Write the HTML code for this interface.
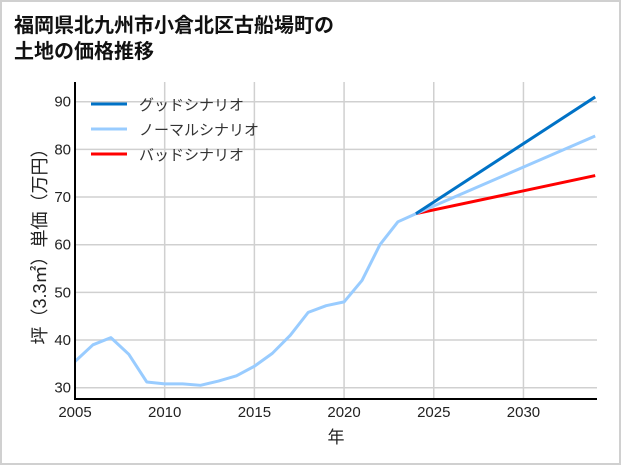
<!DOCTYPE html>
<html><head><meta charset="utf-8"><style>
body{margin:0;background:#fff}
#wrap{width:617px;height:461px;border:2px solid #d0d0d0;position:relative;font-family:"Liberation Sans","Noto Sans CJK JP",sans-serif}
</style></head><body>
<div id="wrap">
<svg id="chart" width="617" height="461" style="position:absolute;left:0;top:0"></svg>
</div>
<script>
const years=[2005,2006,2007,2008,2009,2010,2011,2012,2013,2014,2015,2016,2017,2018,2019,2020,2021,2022,2023,2024];
const history=[35.5,39,40.5,37,31.2,30.8,30.8,30.5,31.4,32.5,34.5,37.2,41,45.8,47.2,48,52.5,60,64.8,66.5];
const scenarioYears=[2024,2034];
const goodValues=[66.5,91];
const normalValues=[66.5,82.8];
const badValues=[66.5,74.5];
const xTicks=[2005,2010,2015,2020,2025,2030];
const yTicks=[30,40,50,60,70,80,90];
const legendLabels=["グッドシナリオ","ノーマルシナリオ","バッドシナリオ"];
const legendColors=["#0072c6","#99ccff","#ff0000"];

const NS="http://www.w3.org/2000/svg";
const svg=document.getElementById('chart');
const L=73,R=595,T=80,B=397;
function x(v){return L+(v-2005)*(R-L)/29.1;}
function y(v){return 99.7+(90-v)*(385.7-99.7)/60;}
function mk(tag,attrs,parent){const e=document.createElementNS(NS,tag);for(const k in attrs)e.setAttribute(k,attrs[k]);(parent||svg).appendChild(e);return e;}

const title=mk('text',{x:12,y:30,'font-size':20,'font-weight':'bold',fill:'#111'});


mk('tspan',{x:12,y:30},title).textContent='福岡県北九州市小倉北区古船場町の';
mk('tspan',{x:12,y:56},title).textContent='土地の価格推移';

xTicks.forEach(t=>{
  const g=mk('line',{x1:x(t),x2:x(t),y1:T,y2:B,stroke:'#d0d0d0','stroke-width':1.5});
  
  
  const tx=mk('text',{x:x(t),y:B+18,'text-anchor':'middle','font-size':15,fill:'#222'});
  tx.textContent=t;
  
  
});
yTicks.forEach(t=>{
  const g=mk('line',{x1:L,x2:R,y1:y(t),y2:y(t),stroke:'#d0d0d0','stroke-width':1.5});
  
  
  const tx=mk('text',{x:L-4,y:y(t)+5,'text-anchor':'end','font-size':15,fill:'#222'});
  tx.textContent=t;
  
  
});

function line(xs,vs,color,name){
  const p=mk('polyline',{points:xs.map((v,i)=>x(v)+','+y(vs[i])).join(' '),fill:'none',stroke:color,'stroke-width':3,'stroke-linejoin':'round'});
  
  
}
line(scenarioYears,badValues,legendColors[2],'bad-scenario-line');
line(scenarioYears,normalValues,legendColors[1],'normal-scenario-line');
line(scenarioYears,goodValues,legendColors[0],'good-scenario-line');
line(years,history,legendColors[1],'history-line');

const ax=mk('polyline',{points:`${L},${T} ${L},${B} ${R},${B}`,fill:'none',stroke:'#000','stroke-width':2});



legendLabels.forEach((lab,i)=>{
  const yy=102+i*25;
  const l=mk('line',{x1:89,x2:125,y1:yy,y2:yy,stroke:legendColors[i],'stroke-width':3});
  
  
  const t=mk('text',{x:137,y:yy+6,'font-size':15,fill:'#333'});
  t.textContent=lab;
  
  
});

const xl=mk('text',{x:334,y:441,'text-anchor':'middle','font-size':17,fill:'#222'});
xl.textContent='年';


const yl=mk('text',{x:0,y:0,'text-anchor':'middle','font-size':18,fill:'#222',transform:'translate(44,240) rotate(-90)'});
yl.textContent='坪（3.3㎡）単価（万円）';


</script>
</body></html>
